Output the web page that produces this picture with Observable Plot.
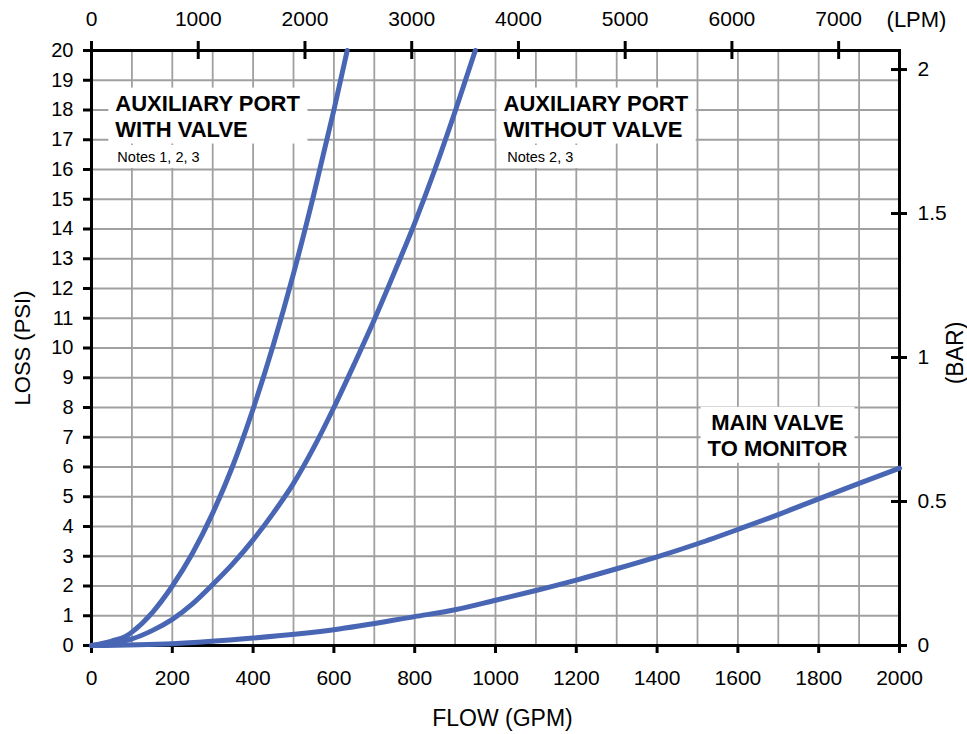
<!DOCTYPE html>
<html>
<head>
<meta charset="utf-8">
<script src="https://cdn.jsdelivr.net/npm/d3@7"></script>
<script src="https://cdn.jsdelivr.net/npm/@observablehq/plot@0.6"></script>
<style>
  body { margin: 0; background: #fff; }
  svg { display: block; }
</style>
</head>
<body>
<div id="chart"></div>
<script>
// ---- Tick labels / grid values ----
const gpmTicks = [0, 200, 400, 600, 800, 1000, 1200, 1400, 1600, 1800, 2000];
const gpmGrid = [0, 100, 200, 300, 400, 500, 600, 700, 800, 900, 1000, 1100, 1200, 1300, 1400, 1500, 1600, 1700, 1800, 1900, 2000];
const psiTicks = [0, 1, 2, 3, 4, 5, 6, 7, 8, 9, 10, 11, 12, 13, 14, 15, 16, 17, 18, 19, 20];
const lpmTicks = [0, 1000, 2000, 3000, 4000, 5000, 6000, 7000];
const barTicks = [0, 0.5, 1, 1.5, 2];

// ---- Series: flow in GPM, loss in PSI ----
const withValveGpm = [0, 50, 90, 100, 150, 200, 250, 300, 350, 400, 450, 500, 550, 600, 633];
const withValvePsi = [0, 0.15, 0.35, 0.45, 1.1, 2.0, 3.1, 4.45, 6.05, 7.95, 10.1, 12.5, 15.15, 18.0, 20];

const withoutValveGpm = [0, 50, 100, 150, 200, 250, 300, 350, 400, 450, 500, 550, 600, 650, 700, 750, 800, 850, 900, 950];
const withoutValvePsi = [0, 0.07, 0.22, 0.5, 0.88, 1.4, 2.05, 2.75, 3.55, 4.45, 5.45, 6.65, 8.0, 9.45, 10.95, 12.55, 14.2, 16.0, 17.95, 20];

const mainGpm = [0, 200, 400, 600, 800, 900, 1000, 1100, 1200, 1300, 1400, 1500, 1600, 1700, 1800, 1900, 2000];
const mainPsi = [0, 0.06, 0.25, 0.53, 0.97, 1.2, 1.52, 1.85, 2.2, 2.58, 2.98, 3.42, 3.9, 4.4, 4.93, 5.45, 5.96];

// ---- Secondary axis conversions ----
const LPM_PER_GPM = 3.785;
const PSI_PER_BAR_AXIS = 9.68; // as drawn on the right-hand axis

// ---- Annotation texts (anchored in data units) ----
const leftTitles = [
  {gpm: 59, psi: 18.6, text: "AUXILIARY PORT\nWITH VALVE"},
  {gpm: 1020, psi: 18.6, text: "AUXILIARY PORT\nWITHOUT VALVE"}
];
const centerTitles = [
  {gpm: 1698, psi: 7.87, text: "MAIN VALVE\nTO MONITOR"}
];
const smallNotes = [
  {gpm: 64, psi: 16.6, text: "Notes 1, 2, 3"},
  {gpm: 1029, psi: 16.6, text: "Notes 2, 3"}
];

const rows = [];
withValveGpm.forEach((g, i) => rows.push({series: "with", gpm: g, psi: withValvePsi[i]}));
withoutValveGpm.forEach((g, i) => rows.push({series: "without", gpm: g, psi: withoutValvePsi[i]}));
mainGpm.forEach((g, i) => rows.push({series: "main", gpm: g, psi: mainPsi[i]}));

const lpmPos = lpmTicks.map(v => v / LPM_PER_GPM);
const barPos = barTicks.map(v => v * PSI_PER_BAR_AXIS);

const gridStyle = {stroke: "#a0a0a0", strokeOpacity: 1, strokeWidth: 1.8};

const plot = Plot.plot({
  width: 967,
  height: 734,
  marginLeft: 91,
  marginRight: 68,
  marginTop: 50,
  marginBottom: 89,
  x: {domain: [0, 2000]},
  y: {domain: [0, 20]},
  style: {fontFamily: "'Liberation Sans', Arial, sans-serif", color: "black", background: "white", overflow: "visible"},
  marks: [
    Plot.gridX(gpmGrid, gridStyle),
    Plot.gridY(psiTicks, gridStyle),
    Plot.axisX(gpmTicks, {tickSize: 8, tickPadding: 17, fontSize: 21, strokeWidth: 3, label: null, tickFormat: d => String(d)}),
    Plot.axisY(psiTicks, {tickSize: 8, tickPadding: 10, fontSize: 20, strokeWidth: 3, label: null, tickFormat: d => String(d)}),
    Plot.axisX(lpmPos, {anchor: "top", tickSize: 0, tickPadding: 25, fontSize: 21, label: null,
      tickFormat: d => String(Math.round(d * LPM_PER_GPM))}),
    Plot.ruleX(lpmPos, {x: d => d, y1: 20, y2: 20, insetTop: -9, insetBottom: -9, stroke: "black", strokeWidth: 3}),
    Plot.axisY(barPos, {anchor: "right", tickSize: 0, tickPadding: 18, fontSize: 21, label: null,
      tickFormat: d => String(Math.round(d / PSI_PER_BAR_AXIS * 10) / 10)}),
    Plot.ruleY(barPos, {y: d => d, x1: 2000, x2: 2000, insetLeft: -8, insetRight: -8, stroke: "black", strokeWidth: 3}),
    Plot.frame({stroke: "black", strokeWidth: 3}),
    Plot.text(leftTitles, {x: "gpm", y: "psi", text: "text", textAnchor: "start", lineAnchor: "top",
      fontSize: 22, fontWeight: "bold", lineHeight: 1.18, fill: "black"}),
    Plot.text(centerTitles, {x: "gpm", y: "psi", text: "text", textAnchor: "middle", lineAnchor: "top",
      fontSize: 22, fontWeight: "bold", lineHeight: 1.18, fill: "black"}),
    Plot.text(smallNotes, {x: "gpm", y: "psi", text: "text", textAnchor: "start", lineAnchor: "top",
      fontSize: 14.5, fill: "black"}),
    Plot.line(rows, {x: "gpm", y: "psi", z: "series", stroke: "#4866b4", strokeWidth: 5, curve: "monotone-x"}),
    Plot.text(["FLOW (GPM)"], {text: d => d, frameAnchor: "bottom", textAnchor: "middle", lineAnchor: "bottom", dx: 7, dy: 80, fontSize: 23}),
    Plot.text(["LOSS (PSI)"], {text: d => d, frameAnchor: "left", textAnchor: "middle", lineAnchor: "middle", rotate: -90, dx: -69, dy: 0, fontSize: 22}),
    Plot.text(["(BAR)"], {text: d => d, frameAnchor: "right", textAnchor: "middle", lineAnchor: "middle", rotate: -90, dx: 56, dy: 5, fontSize: 23}),
    Plot.text(["(LPM)"], {text: d => d, frameAnchor: "top-right", textAnchor: "middle", lineAnchor: "bottom", dx: 17, dy: -24, fontSize: 22})
  ]
});

document.getElementById("chart").appendChild(plot);

// White boxes behind annotations, sized from the rendered text
function boxes(list, pad) {
  const wanted = new Set(list.map(d => d.text.replace(/\n/g, "")));
  const svgRect = plot.getBoundingClientRect();
  plot.querySelectorAll("text").forEach(t => {
    if (!wanted.has(t.textContent)) return;
    const r = t.getBoundingClientRect();
    const rect = document.createElementNS("http://www.w3.org/2000/svg", "rect");
    rect.setAttribute("x", r.left - svgRect.left - pad.l);
    rect.setAttribute("y", r.top - svgRect.top - pad.t);
    rect.setAttribute("width", r.width + pad.l + pad.r);
    rect.setAttribute("height", r.height + pad.t + pad.b);
    rect.setAttribute("fill", "white");
    const g = t.parentNode;
    g.parentNode.insertBefore(rect, g);
  });
}
boxes(leftTitles.concat(centerTitles), {l: 7, r: 7, t: 3, b: 2});
boxes(smallNotes, {l: 5, r: 11, t: 4, b: 3});
</script>
</body>
</html>
